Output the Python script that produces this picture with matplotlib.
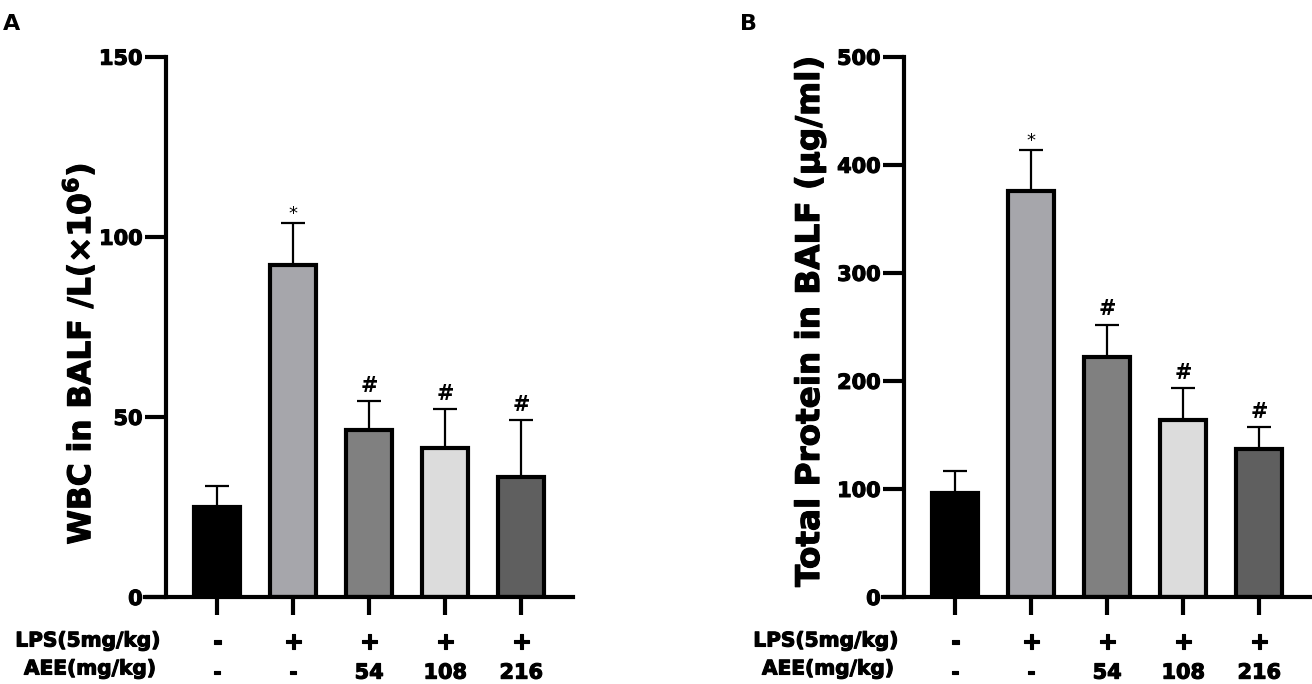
import numpy as np
import matplotlib
matplotlib.use("Agg")
import matplotlib.pyplot as plt
import matplotlib.transforms as mtransforms
import matplotlib.patheffects as pe

plt.rcParams['font.family'] = ['DejaVu Sans']
plt.rcParams['font.weight'] = 'bold'

# ----------------- DATOS -----------------
lps_row = ['-', '+', '+', '+', '+']
aee_row = ['-', '-', '54', '108', '216']
bar_colors = ['#000000', '#A6A6AB', '#808080', '#DCDCDC', '#5F5F5F']
marks = ['', '*', '#', '#', '#']

wbc_mean = [24.9, 92.2, 46.4, 41.3, 33.4]
wbc_err = [5.8, 11.5, 7.9, 10.8, 15.6]

protein_mean = [96, 376, 222, 164, 137]
protein_err = [21, 38, 30, 29, 20]

# trazo extra para que el texto se vea más grueso, como en la figura original
heavy = [pe.withStroke(linewidth=0.8, foreground='black')]


def panel(ax, means, errs, ymax, ystep, ylabel, label_size, label_xy, letter, letter_x):
    x = np.arange(len(means))
    ax.errorbar(x, means, yerr=[np.zeros(len(errs)), errs], fmt='none',
                ecolor='black', elinewidth=1.6, capsize=8.5, capthick=1.6, zorder=1)
    ax.bar(x, means, width=0.6, color=bar_colors, edgecolor='black',
           linewidth=3, zorder=2)

    for xi, m, e, s in zip(x, means, errs, marks):
        if s == '*':
            ax.annotate(s, (xi, m + e), xytext=(0, 0), textcoords='offset points',
                        ha='center', va='bottom', fontsize=13, fontweight='normal')
        elif s:
            ax.annotate(s, (xi, m + e), xytext=(0, 4), textcoords='offset points',
                        ha='center', va='bottom', fontsize=15, fontweight='bold')

    ax.set_xlim(-0.95, 4.68)
    ax.set_ylim(0, ymax)
    ax.spines['top'].set_visible(False)
    ax.spines['right'].set_visible(False)
    ax.spines['left'].set_position(('data', -0.67))
    ax.spines['left'].set_linewidth(3)
    ax.spines['bottom'].set_linewidth(3)
    ax.spines['left'].set_capstyle('projecting')

    ax.set_yticks(np.arange(0, ymax + 1, ystep))
    ax.tick_params(axis='y', length=15, width=3, pad=2, labelsize=15)
    ax.set_xticks(x)
    ax.set_xticklabels([])
    ax.tick_params(axis='x', length=13, width=3)
    for lab in ax.get_yticklabels():
        lab.set_fontweight('bold')
        lab.set_path_effects(heavy)

    yl = ax.set_ylabel(ylabel, fontsize=label_size, fontweight='bold')
    yl.set_path_effects(heavy)
    ax.yaxis.set_label_coords(label_xy[0], label_xy[1])

    trans = mtransforms.blended_transform_factory(ax.transData, ax.transAxes)
    for xi, a, b in zip(x, lps_row, aee_row):
        ax.text(xi, -0.083, a, transform=trans, ha='center', va='center',
                fontsize=17, fontweight='bold', path_effects=heavy)
        ax.text(xi, -0.14, b, transform=trans, ha='center', va='center',
                fontsize=15, fontweight='bold', path_effects=heavy)

    fig.text(letter_x, 0.965, letter, fontsize=16, fontweight='bold',
             ha='left', va='center')


fig = plt.figure(figsize=(13.12, 6.84), dpi=100)
ax1 = fig.add_axes([0.1105, 0.1272, 0.3262, 0.7899])
ax2 = fig.add_axes([0.673, 0.1272, 0.3262, 0.7899])

panel(ax1, wbc_mean, wbc_err, 150, 50, 'WBC in BALF /L(×10$^{\\mathbf{6}}$)', 22.5,
      (-0.112, 0.45), 'A', 0.002)
panel(ax2, protein_mean, protein_err, 500, 100, 'Total Protein in BALF (μg/ml)', 23.5,
      (-0.133, 0.51), 'B', 0.564)

# etiquetas de filas
for xc in (88 / 1312, 826 / 1312):
    fig.text(xc, 1 - 641 / 684, 'LPS(5mg/kg)', ha='center', va='center',
             fontsize=14.5, fontweight='bold', path_effects=heavy)
    fig.text(xc + 2 / 1312, 1 - 669 / 684, 'AEE(mg/kg)', ha='center', va='center',
             fontsize=14.5, fontweight='bold', path_effects=heavy)

fig.savefig('out.png', dpi=100)
